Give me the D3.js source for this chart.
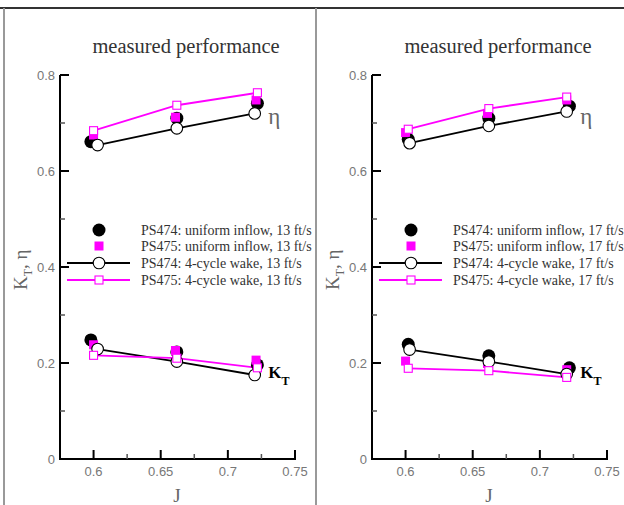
<!DOCTYPE html>
<html lang="en">
  <head>
    <meta charset="UTF-8" />
    <title>Measured performance</title>
    <script src="https://d3js.org/d3.v7.min.js"></script>
    <style>
      body {
        margin: 0;
        padding: 0;
        background: white;
      }
      svg {
        display: block;
      }
      .tick-label {
        font-family: "Liberation Sans", sans-serif;
        font-size: 13px;
        fill: #777;
      }
      .serif {
        font-family: "Liberation Serif", serif;
      }
    </style>
  </head>
  <body>
    <svg width="624" height="505"></svg>
    <script>
      const speeds = ["13 ft/s", "17 ft/s"];
      const seriesNames = [
        "PS474: uniform inflow",
        "PS475: uniform inflow",
        "PS474: 4-cycle wake",
        "PS475: 4-cycle wake",
      ];

      // 13 ft/s panel
      const j474u13 = [0.598, 0.662, 0.722];
      const eta474u13 = [0.661, 0.71, 0.741];
      const kt474u13 = [0.248, 0.223, 0.196];
      const j475u13 = [0.6, 0.661, 0.721];
      const eta475u13 = [0.675, 0.712, 0.748];
      const kt475u13 = [0.238, 0.226, 0.206];
      const j474w13 = [0.603, 0.662, 0.72];
      const eta474w13 = [0.654, 0.689, 0.72];
      const kt474w13 = [0.229, 0.203, 0.175];
      const j475w13 = [0.6, 0.662, 0.722];
      const eta475w13 = [0.684, 0.737, 0.763];
      const kt475w13 = [0.216, 0.21, 0.19];

      // 17 ft/s panel
      const j474u17 = [0.602, 0.662, 0.722];
      const eta474u17 = [0.666, 0.71, 0.735];
      const kt474u17 = [0.239, 0.215, 0.19];
      const j475u17 = [0.6, 0.661, 0.72];
      const eta475u17 = [0.68, 0.72, 0.748];
      const kt475u17 = [0.204, 0.199, 0.186];
      const j474w17 = [0.603, 0.662, 0.72];
      const eta474w17 = [0.658, 0.694, 0.724];
      const kt474w17 = [0.228, 0.203, 0.177];
      const j475w17 = [0.602, 0.662, 0.72];
      const eta475w17 = [0.687, 0.73, 0.754];
      const kt475w17 = [0.189, 0.184, 0.17];

      const xMajor = [0.6, 0.65, 0.7, 0.75];
      const xMinor = [0.625, 0.675, 0.725];
      const yMajor = [0, 0.2, 0.4, 0.6, 0.8];
      const yMinor = [0.1, 0.3, 0.5, 0.7];

      const pts = (js, vs) => js.map((j, i) => ({ j: j, v: vs[i] }));

      const panels = [
        {
          left: 60,
          speed: speeds[0],
          series: [
            [pts(j474u13, eta474u13), pts(j474u13, kt474u13)],
            [pts(j475u13, eta475u13), pts(j475u13, kt475u13)],
            [pts(j474w13, eta474w13), pts(j474w13, kt474w13)],
            [pts(j475w13, eta475w13), pts(j475w13, kt475w13)],
          ],
        },
        {
          left: 372,
          speed: speeds[1],
          series: [
            [pts(j474u17, eta474u17), pts(j474u17, kt474u17)],
            [pts(j475u17, eta475u17), pts(j475u17, kt475u17)],
            [pts(j474w17, eta474w17), pts(j474w17, kt474w17)],
            [pts(j475w17, eta475w17), pts(j475w17, kt475w17)],
          ],
        },
      ];

      const styles = [
        { color: "#000", shape: "circle", filled: true, line: false },
        { color: "#ff00ff", shape: "square", filled: true, line: false },
        { color: "#000", shape: "circle", filled: false, line: true },
        { color: "#ff00ff", shape: "square", filled: false, line: true },
      ];

      const svg = d3.select("svg");

      // frame
      svg.append("line").attr("x1", 0).attr("x2", 624).attr("y1", 8).attr("y2", 8)
        .attr("stroke", "#333").attr("stroke-width", 2);
      svg.append("line").attr("x1", 4).attr("x2", 4).attr("y1", 8).attr("y2", 505)
        .attr("stroke", "#999").attr("stroke-width", 2);
      svg.append("line").attr("x1", 316).attr("x2", 316).attr("y1", 8).attr("y2", 505)
        .attr("stroke", "#999").attr("stroke-width", 2);

      function drawSymbol(g, st, x, y) {
        const fill = st.filled ? st.color : "white";
        if (st.shape === "circle") {
          g.append("circle")
            .attr("cx", x).attr("cy", y)
            .attr("r", st.filled ? 6.5 : 5.8)
            .attr("fill", fill)
            .attr("stroke", st.color)
            .attr("stroke-width", st.filled ? 0 : 1.1);
        } else {
          const s = st.filled ? 9 : 8;
          g.append("rect")
            .attr("x", x - s / 2).attr("y", y - s / 2)
            .attr("width", s).attr("height", s)
            .attr("fill", fill)
            .attr("stroke", st.color)
            .attr("stroke-width", st.filled ? 0 : 1.1);
        }
      }

      function drawPanel(p) {
        const x = d3.scaleLinear().domain([0.575, 0.75]).range([p.left, p.left + 235]);
        const y = d3.scaleLinear().domain([0, 0.8]).range([459, 75]);
        const g = svg.append("g");

        // title
        g.append("text")
          .attr("class", "serif")
          .attr("x", p.left + 126)
          .attr("y", 53)
          .attr("text-anchor", "middle")
          .attr("font-size", 20.5)
          .attr("fill", "#333")
          .text("measured performance");

        // axes lines
        g.append("line")
          .attr("x1", x(0.575)).attr("x2", x(0.575))
          .attr("y1", y(0.8)).attr("y2", y(0))
          .attr("stroke", "#000").attr("stroke-width", 2);
        g.append("line")
          .attr("x1", x(0.575) - 1).attr("x2", x(0.75) + 1)
          .attr("y1", y(0)).attr("y2", y(0))
          .attr("stroke", "#000").attr("stroke-width", 2);

        yMajor.forEach((v) => {
          g.append("line")
            .attr("x1", x(0.575)).attr("x2", x(0.575) + 9)
            .attr("y1", y(v)).attr("y2", y(v))
            .attr("stroke", "#000").attr("stroke-width", 2);
          g.append("text")
            .attr("class", "tick-label")
            .attr("x", x(0.575) - 5)
            .attr("y", y(v) + 5)
            .attr("text-anchor", "end")
            .text(d3.format("")(v));
        });
        yMinor.forEach((v) => {
          g.append("line")
            .attr("x1", x(0.575)).attr("x2", x(0.575) + 5)
            .attr("y1", y(v)).attr("y2", y(v))
            .attr("stroke", "#555").attr("stroke-width", 1.5);
        });
        xMajor.forEach((v) => {
          g.append("line")
            .attr("x1", x(v)).attr("x2", x(v))
            .attr("y1", y(0)).attr("y2", y(0) - 9)
            .attr("stroke", "#000").attr("stroke-width", 2);
          g.append("text")
            .attr("class", "tick-label")
            .attr("x", x(v))
            .attr("y", y(0) + 17)
            .attr("text-anchor", "middle")
            .text(d3.format("")(v));
        });
        xMinor.forEach((v) => {
          g.append("line")
            .attr("x1", x(v)).attr("x2", x(v))
            .attr("y1", y(0)).attr("y2", y(0) - 5)
            .attr("stroke", "#555").attr("stroke-width", 1.5);
        });

        // axis titles
        g.append("text")
          .attr("class", "serif")
          .attr("x", x(0.662))
          .attr("y", 502)
          .attr("text-anchor", "middle")
          .attr("font-size", 19)
          .attr("fill", "#666")
          .text("J");
        const yl = g.append("text")
          .attr("class", "serif")
          .attr("transform", `translate(${p.left - 33},290) rotate(-90)`)
          .attr("font-size", 19)
          .attr("fill", "#666");
        yl.append("tspan").text("K");
        yl.append("tspan").attr("font-size", 12).attr("dy", 5).text("T");
        yl.append("tspan").attr("dy", -5).text(", η");

        // curve labels
        g.append("text")
          .attr("class", "serif")
          .attr("x", x(0.73))
          .attr("y", y(0.697))
          .attr("font-size", 23)
          .attr("fill", "#666")
          .text("η");
        const kt = g.append("text")
          .attr("class", "serif")
          .attr("x", x(0.73))
          .attr("y", y(0.168))
          .attr("font-size", 17)
          .attr("font-weight", "bold")
          .attr("fill", "#000")
          .text("K");
        kt.append("tspan").attr("font-size", 12).attr("dy", 7).text("T");

        // data: lines first, then symbols
        const line = d3.line().x((d) => x(d.j)).y((d) => y(d.v));
        p.series.forEach((curves, si) => {
          const st = styles[si];
          if (!st.line) return;
          curves.forEach((c) => {
            g.append("path")
              .attr("d", line(c))
              .attr("fill", "none")
              .attr("stroke", st.color)
              .attr("stroke-width", 1.8);
          });
        });
        p.series.forEach((curves, si) => {
          const st = styles[si];
          curves.forEach((c) => {
            c.forEach((d) => drawSymbol(g, st, x(d.j), y(d.v)));
          });
        });

        // legend
        const legY = [230, 246, 263, 280];
        seriesNames.forEach((name, i) => {
          const st = styles[i];
          const cx = p.left + 39;
          if (st.line) {
            g.append("line")
              .attr("x1", p.left + 7).attr("x2", p.left + 70)
              .attr("y1", legY[i]).attr("y2", legY[i])
              .attr("stroke", st.color).attr("stroke-width", 1.8);
          }
          drawSymbol(g, st, cx, legY[i]);
          g.append("text")
            .attr("class", "serif")
            .attr("x", p.left + 81)
            .attr("y", legY[i] + 5)
            .attr("font-size", 14)
            .attr("fill", "#333")
            .text(`${name}, ${p.speed}`);
        });
      }

      panels.forEach(drawPanel);
    </script>
  </body>
</html>
